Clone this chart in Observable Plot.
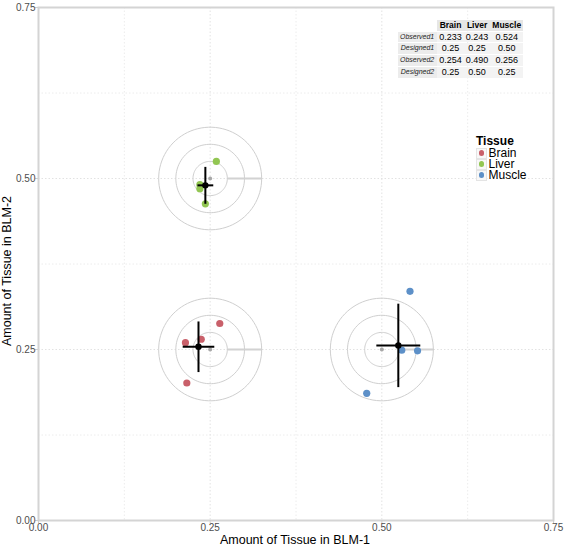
<!DOCTYPE html>
<html><head><meta charset="utf-8">
<script src="https://cdn.jsdelivr.net/npm/d3@7"></script>
<script src="https://cdn.jsdelivr.net/npm/@observablehq/plot@0.6"></script>
<style>
body{margin:0;background:#fff;font-family:"Liberation Sans",Arial,Helvetica,sans-serif;}
#wrap{position:relative;width:567px;height:547px;overflow:hidden;}
#chart svg{display:block;}
.xtitle{position:absolute;left:145px;width:300px;top:533px;height:14px;line-height:14px;text-align:center;font-size:12.5px;color:#000;}
.ytitle{position:absolute;left:-143px;top:264px;width:300px;height:14px;line-height:14px;text-align:center;font-size:12.5px;color:#000;transform:rotate(-90deg);}
#legend{position:absolute;left:476px;top:135px;font-size:12px;color:#000;}
#legend .ttl{font-weight:bold;font-size:12px;line-height:12px;height:12px;margin-bottom:0.5px;}
#legend .row{display:flex;align-items:center;height:11px;line-height:11px;}
#legend .key{width:10.5px;height:11px;border:1px solid #e4e4e4;background:#f8f8f8;display:flex;align-items:center;justify-content:center;margin-right:2px;box-sizing:border-box;}
#legend .key span{width:5.5px;height:5.5px;border-radius:50%;display:block;}
#tbl{position:absolute;left:398px;top:19px;border-collapse:separate;border-spacing:0 1px;}
#tbl td,#tbl th{padding:0 2px;height:10.7px;line-height:10.7px;text-align:center;}
#tbl th{font-weight:bold;font-size:8.5px;background:#e6e6e6;color:#000;}
#tbl th.empty{background:transparent;}
#tbl td.lab{font-style:italic;font-size:7px;background:#ececec;color:#222;text-align:right;padding:0 3px 0 2px;}
#tbl td.val{font-size:9px;background:#f3f3f3;color:#000;}
</style></head><body>
<div id="wrap"><div id="chart"></div></div>
<script>
// ---- data ----
const tissues = ["Brain", "Liver", "Muscle"];
const tissueColors = ["#c9606a", "#92c652", "#5d90c8"];

// individual replicate observations
const obsTissue = ["Brain","Brain","Brain","Brain","Liver","Liver","Liver","Liver","Muscle","Muscle","Muscle","Muscle"];
const obsX = [0.264, 0.214, 0.237, 0.216, 0.259, 0.235, 0.235, 0.243, 0.541, 0.529, 0.552, 0.478];
const obsY = [0.288, 0.260, 0.265, 0.201, 0.525, 0.491, 0.485, 0.463, 0.335, 0.249, 0.248, 0.186];

// designed mixture (BLM-1, BLM-2)
const designX = [0.25, 0.25, 0.50];
const designY = [0.25, 0.50, 0.25];

// observed means
const meanX = [0.233, 0.243, 0.524];
const meanY = [0.254, 0.490, 0.256];
// spread (half-length of cross bars)
const sdX = [0.023, 0.0115, 0.032];
const sdY = [0.037, 0.027, 0.061];

// target rings
const ringRadii = [0.025, 0.05, 0.075];

// table
const tableCols = ["Brain", "Liver", "Muscle"];
const tableRows = ["Observed1", "Designed1", "Observed2", "Designed2"];
const tableVals = [
  ["0.233", "0.243", "0.524"],
  ["0.25", "0.25", "0.50"],
  ["0.254", "0.490", "0.256"],
  ["0.25", "0.50", "0.25"]
];

const axisTicks = [0, 0.25, 0.5, 0.75];
const minorTicks = [0.125, 0.375, 0.625];
const xTitle = "Amount of Tissue in BLM-1";
const yTitle = "Amount of Tissue in BLM-2";
const legendTitle = "Tissue";

// ---- derived tables ----
const obs = obsX.map((x, i) => ({x, y: obsY[i], tissue: obsTissue[i]}));
const groups = tissues.map((t, i) => ({
  tissue: t, dx: designX[i], dy: designY[i], mx: meanX[i], my: meanY[i], sx: sdX[i], sy: sdY[i]
}));
const rings = [];
groups.forEach((g, i) => ringRadii.forEach((r, j) => {
  const n = 90;
  for (let k = 0; k <= n; k++) {
    const a = (k / n) * 2 * Math.PI;
    rings.push({ring: i + "-" + j, x: g.dx + r * Math.cos(a), y: g.dy + r * Math.sin(a)});
  }
}));
const rMin = ringRadii[0], rMax = ringRadii[ringRadii.length - 1];

const fmt = d3.format(".2f");
const plot = Plot.plot({
  width: 567, height: 547,
  marginLeft: 38, marginRight: 14, marginTop: 7, marginBottom: 27,
  style: {fontFamily: "Liberation Sans, Arial, Helvetica, sans-serif", fontSize: "10px", color: "#4d4d4d", background: "transparent"},
  x: {domain: [0, 0.75]},
  y: {domain: [0, 0.75]},
  color: {domain: tissues, range: tissueColors},
  marks: [
    Plot.ruleX(minorTicks, {stroke: "#ececec", strokeDasharray: "1.5,2"}),
    Plot.ruleY(minorTicks, {stroke: "#ececec", strokeDasharray: "1.5,2"}),
    Plot.ruleX(axisTicks.slice(1, -1), {stroke: "#e2e2e2", strokeDasharray: "1.5,2"}),
    Plot.ruleY(axisTicks.slice(1, -1), {stroke: "#e2e2e2", strokeDasharray: "1.5,2"}),
    Plot.line(rings, {x: "x", y: "y", z: "ring", stroke: "#cfcfcf", strokeWidth: 1}),
    Plot.link(groups, {x1: d => d.dx + rMin, x2: d => d.dx + rMax, y1: "dy", y2: "dy", stroke: "#d2d2d2", strokeWidth: 2}),
    Plot.dot(groups, {x: "dx", y: "dy", r: 2, fill: "#a8a8a8"}),
    Plot.dot(obs, {x: "x", y: "y", fill: "tissue", r: 3.6}),
    Plot.link(groups, {x1: d => d.mx - d.sx, x2: d => d.mx + d.sx, y1: "my", y2: "my", stroke: "#000", strokeWidth: 2}),
    Plot.link(groups, {x: "mx", y1: d => d.my - d.sy, y2: d => d.my + d.sy, stroke: "#000", strokeWidth: 2}),
    Plot.dot(groups, {x: "mx", y: "my", r: 3.2, fill: "#000"}),
    Plot.frame({stroke: "#d4d4d4", strokeWidth: 2}),
    Plot.axisX(axisTicks, {tickFormat: fmt, tickSize: 3, stroke: "#cfcfcf", label: null, tickPadding: 0, fill: "#4d4d4d"}),
    Plot.axisY(axisTicks, {tickFormat: fmt, tickSize: 3, stroke: "#cfcfcf", label: null, tickPadding: 0, fill: "#4d4d4d"})
  ]
});
document.getElementById("chart").appendChild(plot);

const wrap = document.getElementById("wrap");
const xt = document.createElement("div"); xt.className = "xtitle"; xt.textContent = xTitle; wrap.appendChild(xt);
const yt = document.createElement("div"); yt.className = "ytitle"; yt.textContent = yTitle; wrap.appendChild(yt);

// legend
const lg = document.createElement("div"); lg.id = "legend";
lg.innerHTML = `<div class="ttl">${legendTitle}</div>` + tissues.map((t, i) =>
  `<div class="row"><div class="key"><span style="background:${tissueColors[i]}"></span></div>${t}</div>`).join("");
wrap.appendChild(lg);

// table
const tb = document.createElement("table"); tb.id = "tbl";
tb.innerHTML = `<tr><th class="empty"></th>${tableCols.map(c => `<th>${c}</th>`).join("")}</tr>` +
  tableRows.map((r, i) => `<tr><td class="lab">${r}</td>${tableVals[i].map(v => `<td class="val">${v}</td>`).join("")}</tr>`).join("");
wrap.appendChild(tb);
</script>
</body></html>
